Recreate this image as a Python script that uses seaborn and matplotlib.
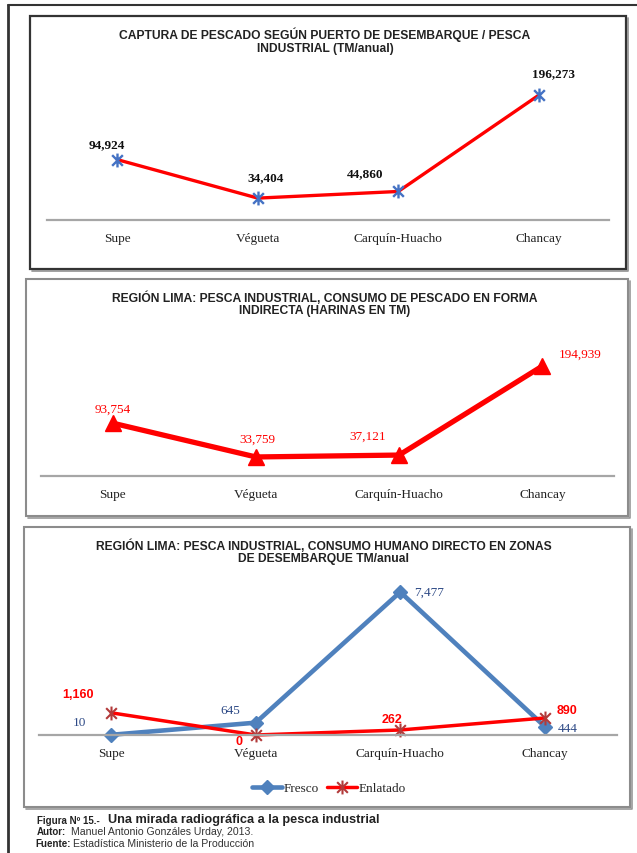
import numpy as np
import pandas as pd
import matplotlib
matplotlib.use("Agg")
import matplotlib.pyplot as plt
import seaborn as sns
from matplotlib.patches import Rectangle
from matplotlib.lines import Line2D
from matplotlib.path import Path

# ---------------------------------------------------
# Data
# ---------------------------------------------------
puertos = ["Supe", "Végueta", "Carquín-Huacho", "Chancay"]
captura = [94924, 34404, 44860, 196273]
harinas = [93754, 33759, 37121, 194939]
fresco = [10, 645, 7477, 444]
enlatado = [1160, 0, 262, 890]

# ---------------------------------------------------
# Style
# ---------------------------------------------------
sns.set_theme(style="white")
SERIF = ["Liberation Serif", "DejaVu Serif"]
NARROW = ["Liberation Sans Narrow", "Liberation Sans", "DejaVu Sans"]
plt.rcParams["font.family"] = SERIF

W, H = 637, 854
fig = plt.figure(figsize=(W / 100, H / 100), dpi=100)
fig.patch.set_facecolor("white")


def fbox(l, t, r, b):
    return [l / W, 1 - b / H, (r - l) / W, (b - t) / H]


def fx(x):
    return x / W


def fy(y):
    return 1 - y / H


# excel-like star marker (x with a vertical bar)
star = Path([(-1, -1), (1, 1), (-1, 1), (1, -1), (0, -1.3), (0, 1.3)],
            [Path.MOVETO, Path.LINETO, Path.MOVETO, Path.LINETO, Path.MOVETO, Path.LINETO])

# page border
fig.add_artist(Line2D([fx(8), fx(8)], [fy(6), 0], color="#333333", lw=2))
fig.add_artist(Line2D([fx(8), 1], [fy(6), fy(6)], color="#333333", lw=1.5))

# panel frames (with a small shadow on right / bottom)
def frame(l, t, r, b, color, lw):
    fig.add_artist(Line2D([fx(l + 2), fx(r + 1.5), fx(r + 1.5)], [fy(b + 1.5), fy(b + 1.5), fy(t + 2)],
                          color="#555555", lw=lw * 0.8, alpha=0.6))
    fig.add_artist(Rectangle((fx(l), fy(b)), fx(r) - fx(l), fy(t) - fy(b),
                             transform=fig.transFigure, fill=False, ec=color, lw=lw))


frame(30, 17, 626, 270, "#333333", 1.6)
frame(26, 280, 628, 517, "#8c8c8c", 1.5)
frame(24, 528, 630, 808, "#8c8c8c", 1.5)


def style_axis(ax, ymax):
    ax.set_xlim(-0.5, 3.5)
    ax.set_ylim(0, ymax)
    ax.set_yticks([])
    ax.set_xticks(range(len(puertos)))
    ax.set_xticklabels(puertos, fontfamily=SERIF, fontsize=9.5, color="#222222")
    ax.tick_params(axis="x", length=0, pad=9)
    ax.set_xlabel("")
    ax.set_ylabel("")
    for s in ["top", "left", "right"]:
        ax.spines[s].set_visible(False)
    ax.spines["bottom"].set_color("#a6a6a6")
    ax.spines["bottom"].set_linewidth(1.6)
    ax.patch.set_alpha(0)


def put_labels(ax, values, offsets, **kw):
    for i, (v, (dx, dy)) in enumerate(zip(values, offsets)):
        ax.annotate(f"{v:,}", (i, v), xytext=(dx, dy), textcoords="offset pixels",
                    ha="center", va="center", annotation_clip=False, **kw)


def title(y1, y2, l1, l2, x=325):
    for y, t in [(y1, l1), (y2, l2)]:
        fig.text(fx(x), fy(y), t, ha="center", va="center", fontfamily=NARROW,
                 fontweight="bold", fontsize=8.7, color="#222222")


# ---------------------------------------------------
# Panel 1: captura
# ---------------------------------------------------
ax1 = fig.add_axes(fbox(47, 62, 609, 221))
df1 = pd.DataFrame({"puerto": puertos, "valor": captura})
sns.lineplot(data=df1, x="puerto", y="valor", ax=ax1, sort=False, color="#ff0000",
             lw=2.4, marker=star, markersize=10, markerfacecolor="#4472c4",
             markeredgecolor="#4472c4", markeredgewidth=1.7, clip_on=False)
style_axis(ax1, 250000)
put_labels(ax1, captura, [(-10, 15), (8, 21), (-33, 18), (15, 22)],
           fontfamily=SERIF, fontsize=9.5, fontweight="bold", color="#111111")
title(35, 49, "CAPTURA DE PESCADO SEGÚN PUERTO DE DESEMBARQUE / PESCA", "INDUSTRIAL (TM/anual)")

# ---------------------------------------------------
# Panel 2: harinas
# ---------------------------------------------------
ax2 = fig.add_axes(fbox(41, 336, 614, 477))
df2 = pd.DataFrame({"puerto": puertos, "valor": harinas})
sns.lineplot(data=df2, x="puerto", y="valor", ax=ax2, sort=False, color="#ff0000",
             lw=3.8, marker="^", markersize=11, markerfacecolor="#ff0000",
             markeredgecolor="#ff0000", markeredgewidth=1, clip_on=False)
style_axis(ax2, 250000)
put_labels(ax2, harinas, [(0, 14), (2, 18), (-31, 19), (38, 12)],
           fontfamily=SERIF, fontsize=9.5, color="#ff0000")
title(298, 311, "REGIÓN LIMA: PESCA INDUSTRIAL, CONSUMO DE PESCADO EN FORMA",
      "INDIRECTA (HARINAS EN TM)")

# ---------------------------------------------------
# Panel 3: consumo humano directo
# ---------------------------------------------------
ax3 = fig.add_axes(fbox(39, 583, 617, 736))
df3 = pd.DataFrame({"puerto": puertos * 2,
                    "valor": fresco + enlatado,
                    "tipo": ["Fresco"] * 4 + ["Enlatado"] * 4})
sns.lineplot(data=df3[df3.tipo == "Fresco"], x="puerto", y="valor", ax=ax3, sort=False,
             color="#4f81bd", lw=3.3, marker="D", markersize=7, markerfacecolor="#4f81bd",
             markeredgecolor="#4f81bd", markeredgewidth=1, clip_on=False, label="Fresco")
sns.lineplot(data=df3[df3.tipo == "Enlatado"], x="puerto", y="valor", ax=ax3, sort=False,
             color="#ff0000", lw=2.5, marker=star, markersize=10, markerfacecolor="#b23a3a",
             markeredgecolor="#b23a3a", markeredgewidth=1.5, clip_on=False, label="Enlatado")
style_axis(ax3, 8000)
put_labels(ax3, fresco, [(-32, 13), (-25, 13), (29, 0), (23, -1)],
           fontfamily=SERIF, fontsize=9.5, color="#2e4a86")
put_labels(ax3, enlatado, [(-33, 19), (-17, -6), (-8, 11), (22, 8)],
           fontfamily=NARROW, fontsize=9, fontweight="bold", color="#ff0000")
ax3.legend(loc="center", bbox_to_anchor=(fx(329), fy(789)), bbox_transform=fig.transFigure,
           ncol=2, frameon=False, prop={"family": SERIF, "size": 9.5},
           handlelength=2.3, handletextpad=0.1, columnspacing=0.6)
title(546, 559, "REGIÓN LIMA: PESCA INDUSTRIAL, CONSUMO HUMANO DIRECTO EN ZONAS",
      "DE DESEMBARQUE TM/anual", x=324)

# ---------------------------------------------------
# Caption
# ---------------------------------------------------
fig.text(fx(37), fy(821), "Figura Nº 15.-", ha="left", va="center",
         fontfamily=NARROW, fontweight="bold", fontsize=7, color="#222222")
fig.text(fx(108), fy(820), "Una mirada radiográfica a la pesca industrial", ha="left", va="center",
         fontfamily=NARROW, fontweight="bold", fontsize=9.2, color="#222222")
fig.text(fx(37), fy(832), "Autor:", ha="left", va="center",
         fontfamily=NARROW, fontweight="bold", fontsize=7, color="#222222")
fig.text(fx(71), fy(832), "Manuel Antonio Gonzáles Urday, 2013.", ha="left", va="center",
         fontfamily=NARROW, fontsize=7.6, color="#333333")
fig.text(fx(35), fy(844), "Fuente:", ha="left", va="center",
         fontfamily=NARROW, fontweight="bold", fontsize=7, color="#222222")
fig.text(fx(73), fy(844), "Estadística Ministerio de la Producción", ha="left", va="center",
         fontfamily=NARROW, fontsize=7.6, color="#333333")

fig.savefig("out.png", dpi=100, facecolor="white")
